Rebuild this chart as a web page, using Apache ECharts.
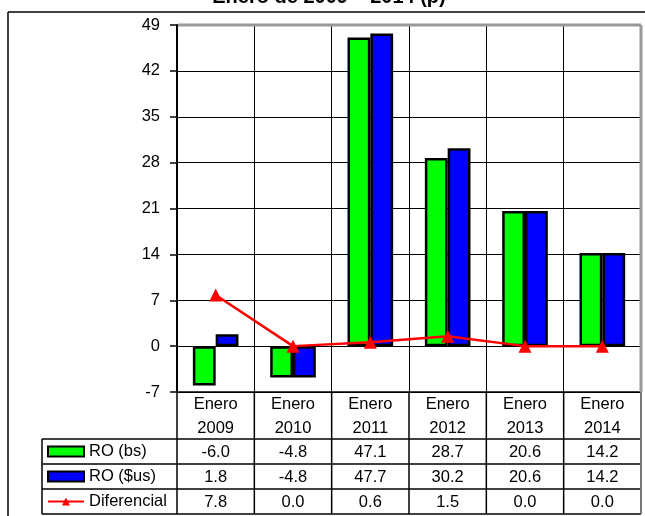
<!DOCTYPE html>
<html><head><meta charset="utf-8">
<script src="https://cdn.jsdelivr.net/npm/echarts@6/dist/echarts.min.js"></script>
<style>html,body{margin:0;padding:0;background:#fff}#c{width:645px;height:516px}</style>
</head><body><div id="c"></div>
<script>
const titleText = 'Enero de 2009 – 2014 (p)';
const categories = ['Enero\n2009', 'Enero\n2010', 'Enero\n2011', 'Enero\n2012', 'Enero\n2013', 'Enero\n2014'];
const seriesNames = ['RO (bs)', 'RO ($us)', 'Diferencial'];
const roBs = [-6.0, -4.8, 47.1, 28.7, 20.6, 14.2];
const roUs = [1.8, -4.8, 47.7, 30.2, 20.6, 14.2];
const diferencial = [7.8, 0.0, 0.6, 1.5, 0.0, 0.0];
const yMin = -7, yMax = 49, yStep = 7;

const FONT = 'Liberation Sans, Arial, sans-serif';
const chart = echarts.init(document.getElementById('c'), null, {renderer: 'canvas'});

const G = {left: 177, right: 641, top: 25, bottom: 392};
const tableRows = [439, 464, 489, 514];
const tableLeft = 42;

chart.setOption({
  animation: false,
  backgroundColor: '#fff',
  textStyle: {fontFamily: FONT},
  grid: {left: G.left, right: 645 - G.right, top: G.top, bottom: 516 - G.bottom, containLabel: false},
  legend: {
    orient: 'vertical', left: 47, top: 439, padding: 0, itemGap: 0,
    itemWidth: 36, itemHeight: 10,
    textStyle: {fontSize: 16.5, color: '#000', fontFamily: FONT, lineHeight: 25, height: 25},
    data: [{name: seriesNames[0], icon: 'rect'}, {name: seriesNames[1], icon: 'rect'}, {name: seriesNames[2]}]
  },
  xAxis: {
    type: 'category', data: categories, boundaryGap: true,
    axisLine: {show: true, onZero: false, lineStyle: {color: '#000', width: 1.5}},
    axisTick: {show: false},
    axisLabel: {fontSize: 16.5, color: '#000', lineHeight: 24, margin: 0, interval: 0, fontFamily: FONT},
    splitLine: {show: true, interval: 0, lineStyle: {color: '#000', width: 1}}
  },
  yAxis: {
    type: 'value', min: yMin, max: yMax, interval: yStep,
    axisLine: {show: true, lineStyle: {color: '#000', width: 2}},
    axisTick: {show: true, length: 7, lineStyle: {color: '#000', width: 1.5}},
    axisLabel: {fontSize: 16.5, color: '#000', margin: 17, fontFamily: FONT},
    splitLine: {show: true, lineStyle: {color: '#000', width: 1}}
  },
  series: [
    {name: seriesNames[0], type: 'bar', data: roBs, barGap: '0%', barCategoryGap: '41%',
     itemStyle: {color: '#00ff00', borderColor: '#000', borderWidth: 2.5}},
    {name: seriesNames[1], type: 'bar', data: roUs, barGap: '0%', barCategoryGap: '41%',
     itemStyle: {color: '#0000ff', borderColor: '#000', borderWidth: 2.5}},
    {name: seriesNames[2], type: 'line', data: diferencial, symbol: 'triangle', symbolSize: 13,
     lineStyle: {color: '#ff0000', width: 2.5}, itemStyle: {color: '#ff0000'}, z: 5}
  ]
});

const centers = categories.map((c, i) => chart.convertToPixel({xAxisIndex: 0}, i));
const band = centers.length > 1 ? centers[1] - centers[0] : 77;
const bounds = [centers[0] - band / 2].concat(centers.map(c => c + band / 2));
const yTop = chart.convertToPixel({yAxisIndex: 0}, yMax);
const yBot = chart.convertToPixel({yAxisIndex: 0}, yMin);
const xL = bounds[0], xR = bounds[bounds.length - 1];

const els = [];
const line = (x1, y1, x2, y2, color, w, z) => els.push({type: 'line', shape: {x1, y1, x2, y2}, style: {stroke: color, lineWidth: w}, z: z || 10, silent: true});

line(8, 12, 645, 12, '#000', 1.5);
line(8, 12, 8, 516, '#000', 1.5);
els.push({type: 'text', x: 329, y: 7, style: {text: titleText, font: 'bold 20px ' + FONT, fill: '#000', align: 'center', verticalAlign: 'bottom'}, z: 10});
line(xL + 1, yTop, xR, yTop, '#999', 3, 9);
line(xR, yTop, xR, yBot, '#999', 3, 9);
tableRows.forEach(y => line(tableLeft, y, xR, y, '#000', 1.5));
line(tableLeft, tableRows[0], tableLeft, tableRows[tableRows.length - 1], '#000', 1.5);
bounds.forEach((x, i) => line(x, yBot, x, tableRows[tableRows.length - 1], i === bounds.length - 1 ? '#777' : '#000', i === bounds.length - 1 ? 2 : 1.5));
const rowsData = [roBs, roUs, diferencial];
rowsData.forEach((arr, r) => {
  const cy = (tableRows[r] + tableRows[r + 1]) / 2;
  arr.forEach((v, i) => {
    els.push({type: 'text', x: centers[i], y: cy + 1, style: {text: v.toFixed(1), font: '16.5px ' + FONT, fill: '#000', align: 'center', verticalAlign: 'middle'}, z: 10});
  });
});
chart.setOption({graphic: {elements: els}});
</script></body></html>
